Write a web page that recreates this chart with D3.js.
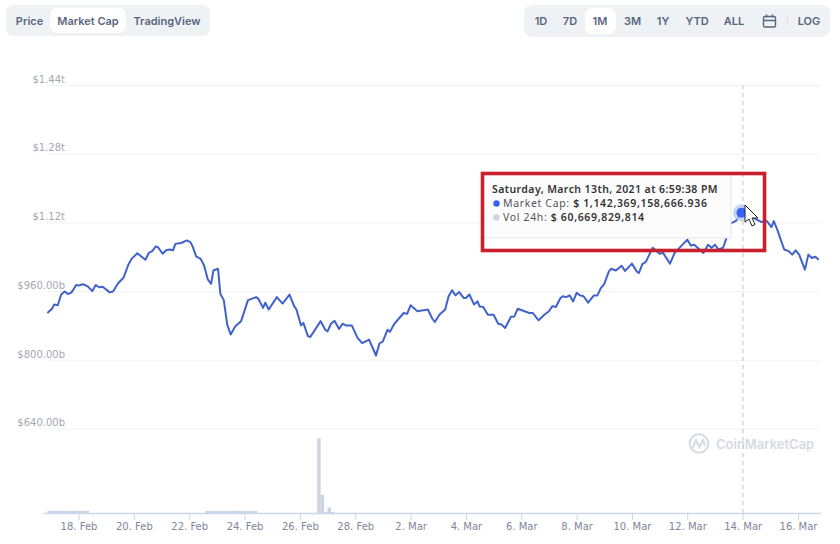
<!DOCTYPE html>
<html><head><meta charset="utf-8">
<script src="https://cdn.jsdelivr.net/npm/d3@7"></script>
<style>
html,body{margin:0;padding:0;background:#fff;overflow:hidden}
svg{display:block}
.btn{font-family:Inter,"Noto Sans",sans-serif;font-weight:600;font-size:11px;fill:#58667e;text-anchor:middle}
.axis text{font-family:"DejaVu Sans",sans-serif;font-size:10px}
.tip{font-family:"Noto Sans",sans-serif;font-size:10.5px;fill:#333}
</style></head><body>
<svg id="chart" width="840" height="544"></svg>
<script>
// ---- data (hours since 16 Feb 2021 00:00 UTC, market cap in $ billions)
const capHours = [21,25,27,30,33,36,39,42,46,48,52,56,60,63,66,69,75,78,82,87,91,94,99,106,109,112,115,117,121,124,127,130,132,137,142,145,147,150,154,157,160,163,165,169,171,174,177,180,184,189,195,198,202,204,208,210,213,220,225,231,235,237,241,243,247,249,258,262,264,267,270,274,277,280,285,290,294,300,306,309,312,316,318,322,330,333,336,342,351,355,357,361,366,369,372,375,378,382,384,387,391,394,396,399,403,408,412,415,418,423,426,429,439,442,447,452,456,459,462,466,468,471,474,477,480,483,486,490,495,498,501,504,508,510,514,519,522,528,532,534,537,540,546,552,555,561,565,570,576,579,582,590,594,597,600,603,607,610,613,618,623,627,631,640,645,649,651,654,660,664,667,670,673,678,681,684,687,690];
const capValues = [909,919,929,927,952,959,953,957,974,973,976,971,960,974,969,970,957,959,977,991,1020,1035,1048,1033,1049,1053,1064,1062,1047,1055,1057,1055,1070,1072,1078,1074,1064,1041,1035,1019,988,977,1008,1012,954,939,882,859,878,890,939,942,946,942,921,933,917,946,931,952,925,917,880,886,855,853,890,870,866,884,891,872,884,880,880,851,839,847,810,838,843,870,865,884,909,907,927,913,917,895,888,905,917,948,962,950,958,944,944,952,929,936,924,923,905,905,884,882,874,900,901,919,909,909,892,905,913,925,923,944,948,946,950,936,956,950,948,933,950,950,967,977,1006,1012,1008,1019,1007,1024,1006,1002,1023,1028,1061,1047,1049,1024,1049,1063,1080,1066,1068,1049,1068,1061,1068,1057,1061,1084,1117,1123,1142,1138,1134,1121,1123,1109,1123,1103,1057,1053,1045,1055,1045,1010,1045,1037,1040,1033];
const volHours = [21,24,27,30,33,36,39,42,45,48,51,54,158,161,164,167,170,173,176,179,182,185,188,191,194,197,200,255,258,261,264,267];
const volValues = [130,135,130,130,135,130,130,130,130,135,130,130,125,125,130,125,125,125,120,125,125,130,125,120,125,125,120,4500,1080,70,340,60];
const yTicks = [640,800,960,1120,1280,1440];
const yLabels = ["$640.00b","$800.00b","$960.00b","$1.12t","$1.28t","$1.44t"];
const xTickDates = ["2021-02-18","2021-02-20","2021-02-22","2021-02-24","2021-02-26","2021-02-28","2021-03-02","2021-03-04","2021-03-06","2021-03-08","2021-03-10","2021-03-12","2021-03-14","2021-03-16"];
const leftTabs = ["Price","Market Cap","TradingView"];
const rangeTabs = ["1D","7D","1M","3M","1Y","YTD","ALL"];
const tooltipTitle = "Saturday, March 13th, 2021 at 6:59:38 PM";
const hoverHour = 623, hoverValue = 1142.369;

// ---- scales
const t0 = Date.UTC(2021,1,16);
const hourDate = h => new Date(t0 + h*3600e3);
const x = d3.scaleUtc().domain([new Date("2021-02-18T00:00Z"), new Date("2021-03-16T00:00Z")]).range([78.5,798]);
const y = d3.scaleLinear().domain([640,1440]).range([428.5,85]);
const yVol = d3.scaleLinear().domain([0,5000]).range([513,430]);
const svg = d3.select("#chart");

// ---- buttons
svg.append("rect").attr("x",6).attr("y",5).attr("width",204).attr("height",31).attr("rx",8).attr("fill","#eff2f5");
svg.append("rect").attr("x",50).attr("y",8).attr("width",76).attr("height",25).attr("rx",7).attr("fill","#fff");
svg.selectAll(".lt").data(leftTabs).join("text").attr("class","btn").attr("x",(d,i)=>[29.5,88,167][i]).attr("y",25).text(d=>d);
svg.append("rect").attr("x",524).attr("y",5).attr("width",306).attr("height",32).attr("rx",8).attr("fill","#eff2f5");
svg.append("rect").attr("x",585).attr("y",8).attr("width",31).attr("height",26).attr("rx",7).attr("fill","#fff");
svg.selectAll(".rt").data(rangeTabs).join("text").attr("class","btn").attr("x",(d,i)=>[541,570,600,632.5,663,697,734][i]).attr("y",25).text(d=>d);
svg.append("text").attr("class","btn").attr("x",809).attr("y",25).text("LOG");
svg.append("rect").attr("x",787).attr("y",15).attr("width",1).attr("height",11).attr("fill","#dfe3ea");
const cal = svg.append("g").attr("fill","none").attr("stroke","#58667e").attr("stroke-width",1.4);
cal.append("rect").attr("x",763.5).attr("y",16.5).attr("width",12).attr("height",10.5).attr("rx",1.5);
cal.append("path").attr("d","M763.5 20.5H775.5M766.5 14.5V17.5M772.5 14.5V17.5");

// ---- grid
svg.append("g").selectAll("line").data(yTicks).join("line")
  .attr("x1",47).attr("x2",820).attr("y1",d=>y(d)+.5).attr("y2",d=>y(d)+.5)
  .attr("stroke","#f1f2f5").attr("stroke-width",1);

// ---- y axis labels
const yAxis = d3.axisLeft(y).tickValues(yTicks).tickSize(0).tickPadding(0).tickFormat((d,i)=>yLabels[i]);
const gy = svg.append("g").attr("class","axis").attr("transform","translate(65,-6)").call(yAxis);
gy.select(".domain").remove();
gy.selectAll("text").attr("fill","#a3a8b3");

// ---- watermark
const wm = svg.append("g");
wm.append("circle").attr("cx",699).attr("cy",443.5).attr("r",9.3).attr("fill","#fff").attr("stroke","#d5dae3").attr("stroke-width",2);
wm.append("path").attr("d","M692.5 448L696 440L699.5 447L703 440L705 446").attr("fill","none").attr("stroke","#d5dae3").attr("stroke-width",2);
wm.append("text").attr("x",716).attr("y",449).attr("font-family","Inter,sans-serif").attr("font-weight",600).attr("font-size",13).attr("fill","#d5dae3").text("CoinMarketCap");

// ---- volume bars
svg.append("g").selectAll("rect").data(volHours).join("rect")
  .attr("x",d=>x(hourDate(d)))
  .attr("width",d=>x(hourDate(d+3))-x(hourDate(d)))
  .attr("y",(d,i)=>yVol(volValues[i]))
  .attr("height",(d,i)=>yVol(0)-yVol(volValues[i]))
  .attr("fill","#ccd3e3");

// ---- x axis
const xAxis = d3.axisBottom(x).tickValues(xTickDates.map(d=>new Date(d+"T00:00Z"))).tickSize(7).tickPadding(3).tickFormat(d3.utcFormat("%-d. %b"));
const gx = svg.append("g").attr("class","axis").attr("transform","translate(0,513)").call(xAxis);
gx.select(".domain").attr("d","M43.5,0.5H821").attr("stroke","#ccd6eb").attr("stroke-width",1.4);
gx.selectAll("line").attr("stroke","#ccd6eb");
gx.selectAll("text").attr("fill","#7e869c");

// ---- market cap line
const line = d3.line().x((d,i)=>x(hourDate(d))).y((d,i)=>y(capValues[i]));
svg.append("path").attr("d",line(capHours)).attr("fill","none").attr("stroke","#4162cb").attr("stroke-width",2).attr("stroke-linejoin","round");

// ---- crosshair
const hx = x(hourDate(hoverHour)), hy = y(hoverValue);
svg.append("line").attr("x1",743).attr("x2",743).attr("y1",85).attr("y2",513).attr("stroke","#c9ccd3").attr("stroke-width",1.2).attr("stroke-dasharray","4 4");

// ---- tooltip
svg.append("rect").attr("x",483).attr("y",174).attr("width",248).attr("height",64).attr("fill","#fcfcfc").attr("stroke","#e4e6ea");
svg.append("circle").attr("cx",hx).attr("cy",hy).attr("r",8.5).attr("fill","#b9c8f5").attr("opacity",.8);
svg.append("circle").attr("cx",hx).attr("cy",hy).attr("r",5).attr("fill","#3861fb");
const tip = svg.append("g").attr("class","tip");
tip.append("text").attr("x",492).attr("y",193).attr("font-weight",600).attr("letter-spacing",.42).text(tooltipTitle);
const r2 = tip.append("text").attr("x",503).attr("y",207).attr("letter-spacing",.65);
r2.append("tspan").attr("fill","#555").text("Market Cap: ");
r2.append("tspan").attr("font-weight",600).text("$ 1,142,369,158,666.936");
const r3 = tip.append("text").attr("x",503).attr("y",221).attr("letter-spacing",.65);
r3.append("tspan").attr("fill","#555").text("Vol 24h: ");
r3.append("tspan").attr("font-weight",600).text("$ 60,669,829,814");
svg.append("circle").attr("cx",496.5).attr("cy",203.5).attr("r",3.2).attr("fill","#3861fb");
svg.append("circle").attr("cx",496.5).attr("cy",217.5).attr("r",3.2).attr("fill","#ccd3e3");

// ---- highlight box + cursor
svg.append("rect").attr("x",482.5).attr("y",173.5).attr("width",282).attr("height",77).attr("fill","none").attr("stroke","#c8202d").attr("stroke-width",3.6);
svg.append("path").attr("d","M745 205L745 222L749 219L752 226L755 224.5L752 218L758 218Z").attr("fill","#fff").attr("stroke","#222").attr("stroke-width",1);
</script>
</body></html>
